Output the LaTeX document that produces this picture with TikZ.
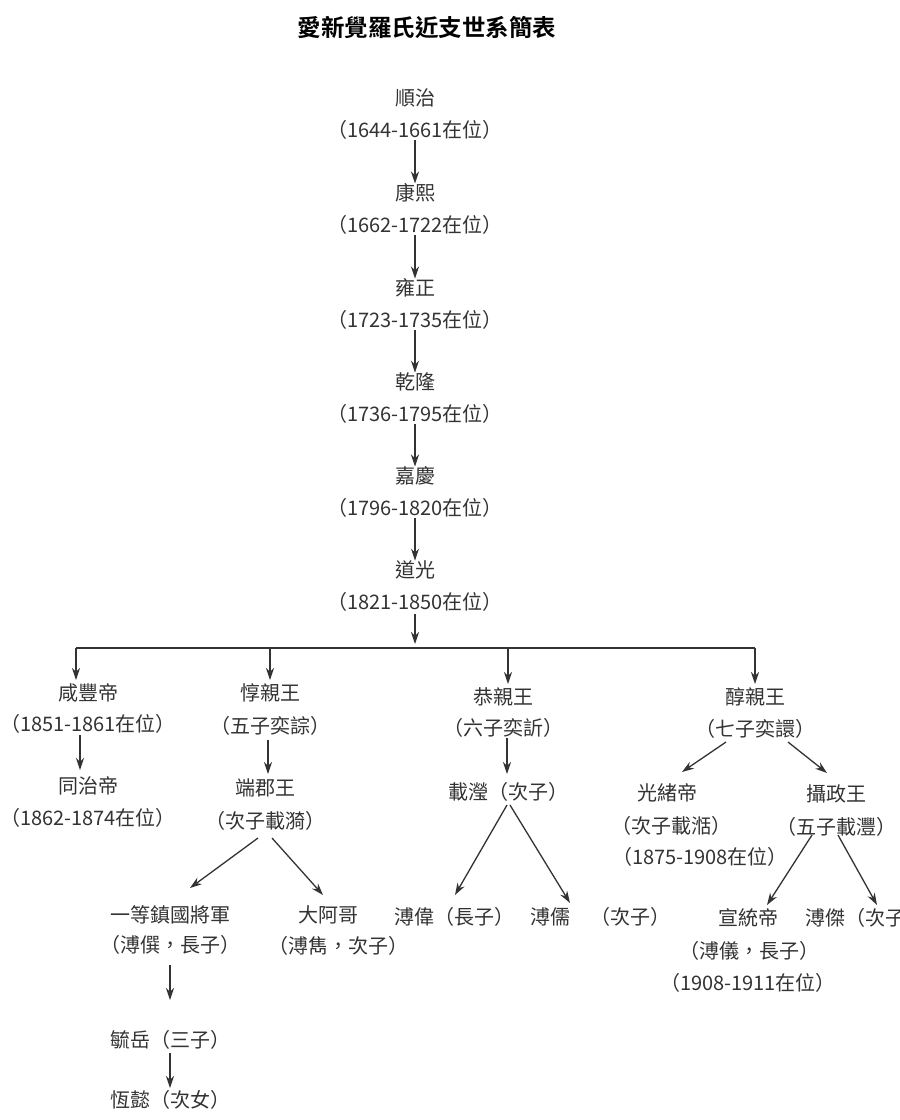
\documentclass[tikz,border=0pt]{standalone}
\usepackage{fontspec}
\setmainfont{Noto Sans CJK TC}
\newfontfamily\titlefont{Noto Sans CJK TC Bold}
\usetikzlibrary{arrows.meta}
\definecolor{ink}{HTML}{333333}
\tikzset{
 t/.style={font=\fontsize{20}{22}\selectfont, text=ink, inner sep=0pt},
 ar/.style={draw=ink, line width=1.3pt, -{Stealth[length=12pt,width=8pt]}},
}
\begin{document}
\begin{tikzpicture}[x=1pt,y=-1pt]
\useasboundingbox[fill=white] (0,0) rectangle (900,1120);
\clip (0,0) rectangle (900,1120);
\node[t, font=\titlefont\fontsize{23.5}{25}\selectfont, text=black] (title) at (427,27) {愛新覺羅氏近支世系簡表};
\foreach \n/\y/\name/\yr in {a/98/順治/1644-1661,b/193/康熙/1662-1722,c/288/雍正/1723-1735,d/382/乾隆/1736-1795,e/476/嘉慶/1796-1820,f/570/道光/1821-1850}{
 \node[t] (\n) at (415,\y) {\name};
 \node[t] (\n y) at (415,\y+32) {（\yr 在位）};
}
\draw[ar] (415,140) -- (b);
\draw[ar] (415,235) -- (c);
\draw[ar] (415,330) -- (d);
\draw[ar] (415,424) -- (e);
\draw[ar] (415,518) -- (f);
\coordinate (fb) at (415,614);
\coordinate (j) at (415,648);
\draw[ar] (fb) -- (415,644);
\node[t] (xf) at (88,693) {咸豐帝};
\node[t] (xfy) at (88,724) {（1851-1861在位）};
\node[t] (tz) at (88,786) {同治帝};
\node[t] (tzy) at (88,818) {（1862-1874在位）};
\node[t] (dq) at (270,693) {惇親王};
\node[t] (dqy) at (270,726) {（五子奕誴）};
\node[t] (dj) at (265,788) {端郡王};
\node[t] (djy) at (265,821) {（次子載漪）};
\node[t] (yd) at (170,915) {一等鎮國將軍};
\node[t] (ydy) at (170,945) {（溥僎，長子）};
\node[t] (yy) at (170,1040) {毓岳（三子）};
\node[t] (hy) at (170,1100) {恆懿（次女）};
\node[t] (da) at (328,915) {大阿哥};
\node[t] (day) at (338,946) {（溥雋，次子）};
\node[t] (gq) at (503,697) {恭親王};
\node[t] (gqy) at (503,728) {（六子奕訢）};
\node[t] (zy) at (508,792) {載瀅（次子）};
\node[t] (pw) at (454,917) {溥偉（長子）};
\node[t] (pr) at (600,917) {溥儒　（次子）};
\node[t] (cq) at (755,697) {醇親王};
\node[t] (cqy) at (755,729) {（七子奕譞）};
\node[t] (gx) at (667,793) {光緒帝};
\node[t] (gxy) at (671,826) {（次子載湉）};
\node[t] (gxz) at (700,857) {（1875-1908在位）};
\node[t] (sz) at (836,794) {攝政王};
\node[t] (szy) at (836,827) {（五子載灃）};
\node[t] (xt) at (748,918) {宣統帝};
\node[t] (xty) at (749,951) {（溥儀，長子）};
\node[t] (xtz) at (748,983) {（1908-1911在位）};
\node[t, anchor=west] (pj) at (805,918) {溥傑（次子）};
\draw[draw=ink, line width=1.3pt] (76,648) -- (755,648);
\draw[ar] (76,648) -- (76,680);
\draw[ar] (270,648) -- (270,680);
\draw[ar] (508,648) -- (508,684);
\draw[ar] (755,648) -- (755,684);
\draw[ar] (80,735) -- (80,770);
\draw[ar] (268,740) -- (268,774);
\draw[ar] (258,838) -- (190,888);
\draw[ar] (272,838) -- (323,895);
\draw[ar] (170,965) -- (170,1000);
\draw[ar] (170,1053) -- (170,1088);
\draw[ar] (507,738) -- (507,774);
\draw[ar] (507,805) -- (455,895);
\draw[ar] (510,805) -- (570,903);
\draw[ar] (726,742) -- (682,772);
\draw[ar] (788,742) -- (827,773);
\draw[ar] (812,835) -- (767,905);
\draw[ar] (838,835) -- (877,905);
\end{tikzpicture}
\end{document}
